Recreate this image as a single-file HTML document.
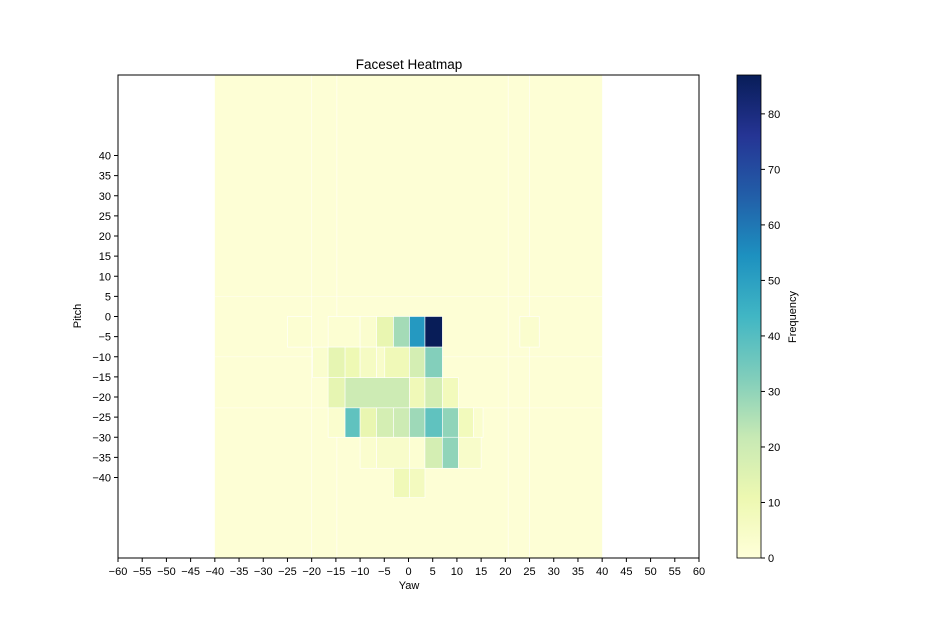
<!DOCTYPE html>
<html><head><meta charset="utf-8"><style>body{margin:0;background:#fff}svg{font-family:"Liberation Sans","DejaVu Sans",sans-serif}</style></head>
<body>
<svg id="c" width="941" height="627" xmlns="http://www.w3.org/2000/svg"></svg>
<script>
// cell data: yaw range, pitch range, frequency
const yaw0 = [-16.6,-10,-6.6,-3.1,0.2,3.4,-25,23, -19.8,-16.6,-13.1,-10,-6.6,-4.9,0.2,3.4, -16.6,-13.1,0.2,3.4,7, -16.6,-13.1,-10,-6.6,-3.1,0.2,3.4,7,10.3,13.4, -10,-6.6,0.2,3.4,7,10.3, -3.1,0.2];
const yaw1 = [-10,-6.6,-3.1,0.2,3.4,7,-20,27, -16.6,-13.1,-10,-6.6,-4.9,0.2,3.4,7, -13.1,0.2,3.4,7,10.3, -13.1,-10,-6.6,-3.1,0.2,3.4,7,10.3,13.4,15.4, -6.6,0.2,3.4,7,10.3,15, 0.2,3.4];
const pitch0 = [-7.6,-7.6,-7.6,-7.6,-7.6,-7.6,-7.6,-7.6, -15.2,-15.2,-15.2,-15.2,-15.2,-15.2,-15.2,-15.2, -22.7,-22.7,-22.7,-22.7,-22.7, -30,-30,-30,-30,-30,-30,-30,-30,-30,-30, -37.7,-37.7,-37.7,-37.7,-37.7,-37.7, -45,-45];
const pitch1 = [0,0,0,0,0,0,0,0, -7.6,-7.6,-7.6,-7.6,-7.6,-7.6,-7.6,-7.6, -15.2,-15.2,-15.2,-15.2,-15.2, -22.7,-22.7,-22.7,-22.7,-22.7,-22.7,-22.7,-22.7,-22.7,-22.7, -30,-30,-30,-30,-30,-30, -37.7,-37.7];
const freq = [2,3,12,27,52,87,2,3, 3,13,10,6,4,9,18,32, 13,20,9,18,8, 3,38,12,18,20,28,38,30,8,3, 3,4,2,18,30,4, 9,7];
const xTicks = [-60,-55,-50,-45,-40,-35,-30,-25,-20,-15,-10,-5,0,5,10,15,20,25,30,35,40,45,50,55,60];
const yTicks = [-40,-35,-30,-25,-20,-15,-10,-5,0,5,10,15,20,25,30,35,40];
const cbTicks = [0,10,20,30,40,50,60,70,80];
const vmax = 87;

const L=118,R=699,T=75,B=558;
const xs=v=>L+(v+60)/120*(R-L);
const ys=v=>B-(v+60)/120*(B-T);
const stops=["#ffffd9","#edf8b1","#c7e9b4","#7fcdbb","#41b6c4","#1d91c0","#225ea8","#253494","#081d58"];
function hex(h){return [1,3,5].map(i=>parseInt(h.substr(i,2),16));}
function cmap(t){t=Math.max(0,Math.min(1,t))*8;const i=Math.min(7,Math.floor(t)),f=t-i;const a=hex(stops[i]),b=hex(stops[i+1]);return "rgb("+a.map((v,k)=>Math.round(v+(b[k]-v)*f)).join(",")+")";}
const svg=document.getElementById('c');const NS="http://www.w3.org/2000/svg";
function mk(tag,attrs,parent){const e=document.createElementNS(NS,tag);for(const k in attrs)e.setAttribute(k,attrs[k]);(parent||svg).appendChild(e);return e;}

const plot=mk('g',{});


const bg=mk('rect',{x:xs(-40),y:ys(60),width:xs(40)-xs(-40),height:ys(-60)-ys(60),fill:cmap(1/vmax)},plot);


[-20,-14.8,20.6,25].forEach(v=>{mk('line',{x1:xs(v),x2:xs(v),y1:T,y2:B,stroke:"#fff","stroke-width":0.8,opacity:0.7},plot);});
[5,-10,-22.7].forEach(v=>{mk('line',{x1:xs(-40),x2:xs(40),y1:ys(v),y2:ys(v),stroke:"#fff","stroke-width":0.8,opacity:0.5},plot);});
for(let i=0;i<freq.length;i++){
  const r=mk('rect',{x:xs(yaw0[i]),y:ys(pitch1[i]),width:xs(yaw1[i])-xs(yaw0[i]),height:ys(pitch0[i])-ys(pitch1[i]),fill:cmap(freq[i]/vmax),stroke:"#fff","stroke-width":0.6},plot);
  
  
}
const frame=mk('rect',{x:L,y:T,width:R-L,height:B-T,fill:"none",stroke:"#000","stroke-width":1});


xTicks.forEach(v=>{mk('line',{x1:xs(v),x2:xs(v),y1:B,y2:B+4,stroke:"#000"});
  const t=mk('text',{x:xs(v),y:B+17,"font-size":11,"text-anchor":"middle"});t.textContent=v<0?"\u2212"+(-v):v;
  
  });
yTicks.forEach(v=>{mk('line',{x1:L-4,x2:L,y1:ys(v),y2:ys(v),stroke:"#000"});
  const t=mk('text',{x:L-7,y:ys(v)+4,"font-size":11,"text-anchor":"end"});t.textContent=v<0?"\u2212"+(-v):v;
  
  });
let t=mk('text',{x:409,y:69,"font-size":13.5,"text-anchor":"middle"});t.textContent="Faceset Heatmap";

t=mk('text',{x:409,y:589,"font-size":11,"text-anchor":"middle"});t.textContent="Yaw";

t=mk('text',{x:81,y:316,"font-size":11,"text-anchor":"middle",transform:"rotate(-90 81 316)"});t.textContent="Pitch";


// colorbar
const cx=737,cw=24,cT=75,cB=558;
const defs=mk('defs',{});const g=mk('linearGradient',{id:"cg",x1:0,y1:1,x2:0,y2:0},defs);
stops.forEach((s,i)=>mk('stop',{offset:i/8,"stop-color":s},g));
const cb=mk('rect',{x:cx,y:cT,width:cw,height:cB-cT,fill:"url(#cg)",stroke:"#000","stroke-width":0.8});

const cy=v=>cB-v/vmax*(cB-cT);
cbTicks.forEach(v=>{mk('line',{x1:cx+cw,x2:cx+cw+4,y1:cy(v),y2:cy(v),stroke:"#000"});
  const tt=mk('text',{x:cx+cw+7,y:cy(v)+4,"font-size":11});tt.textContent=v;
  });
t=mk('text',{x:796,y:317,"font-size":11,"text-anchor":"middle",transform:"rotate(-90 796 317)"});t.textContent="Frequency";

</script>
</body></html>
